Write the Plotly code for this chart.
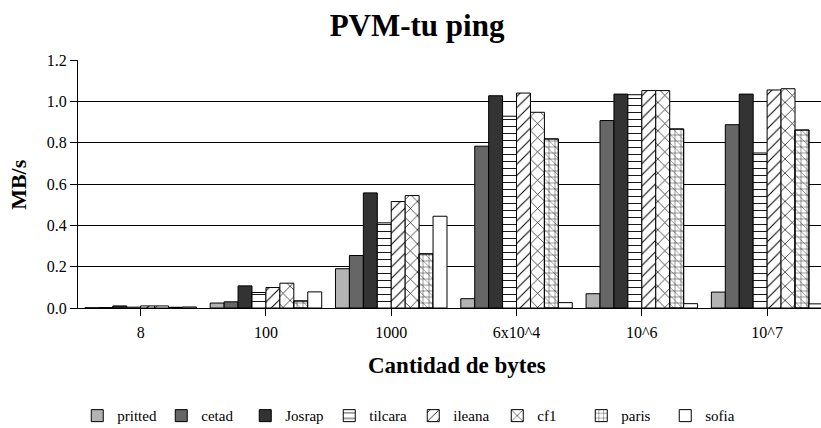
import plotly.graph_objects as go

categories = ["8", "100", "1000", "6x10^4", "10^6", "10^7"]
series_names = ["pritted", "cetad", "Josrap", "tilcara", "ileana", "cf1", "paris", "sofia"]
pritted = [0.001, 0.024, 0.19, 0.045, 0.069, 0.077]
cetad = [0.002, 0.030, 0.254, 0.783, 0.907, 0.887]
josrap = [0.010, 0.107, 0.557, 1.027, 1.035, 1.035]
tilcara = [0.004, 0.075, 0.412, 0.928, 1.032, 0.750]
ileana = [0.010, 0.099, 0.515, 1.040, 1.052, 1.055]
cf1 = [0.010, 0.120, 0.544, 0.947, 1.052, 1.061]
paris = [0.003, 0.034, 0.262, 0.818, 0.866, 0.861]
sofia = [0.005, 0.078, 0.444, 0.026, 0.021, 0.020]
y_ticks = [0.0, 0.2, 0.4, 0.6, 0.8, 1.0, 1.2]

values = [pritted, cetad, josrap, tilcara, ileana, cf1, paris, sofia]
styles = [
    dict(color="#b3b3b3", shape="", size=8),
    dict(color="#666666", shape="", size=8),
    dict(color="#333333", shape="", size=8),
    dict(color="white", shape="-", size=7),
    dict(color="white", shape="/", size=8),
    dict(color="white", shape="x", size=10),
    dict(color="white", shape="+", size=6),
    dict(color="white", shape="", size=8),
]

FONT = "'Liberation Serif', 'Times New Roman', serif"
fig = go.Figure()
x_idx = list(range(len(categories)))
for name, vals, st in zip(series_names, values, styles):
    marker = dict(color=st["color"], line=dict(color="black", width=1))
    if st["shape"]:
        marker["pattern"] = dict(shape=st["shape"], fgcolor="black", bgcolor="white",
                                 size=st["size"], solidity=0.13, fillmode="replace")
    fig.add_trace(go.Bar(name=name, x=x_idx, y=vals, marker=marker, offsetgroup=name))
    if name == "paris":
        fig.add_trace(go.Bar(name=name, x=x_idx, y=vals, offsetgroup=name, showlegend=False,
                             marker=dict(color="rgba(0,0,0,0)", line=dict(color="black", width=1),
                                         pattern=dict(shape="\\", fgcolor="black",
                                                      bgcolor="rgba(0,0,0,0)", size=6,
                                                      solidity=0.13, fillmode="overlay")),
                             hoverinfo="skip"))

fig.update_layout(
    width=821, height=428,
    barmode="group", bargap=0.11, bargroupgap=0,
    plot_bgcolor="white", paper_bgcolor="white",
    margin=dict(l=78, r=0, t=60, b=120, autoexpand=False),
    font=dict(family=FONT, size=16, color="black"),
    title=dict(text="<b>PVM-tu ping</b>", x=0.508, xref="container", xanchor="center",
               y=0.942, yref="container", yanchor="middle",
               font=dict(family=FONT, size=31, color="black")),
    showlegend=True,
    legend=dict(orientation="h", x=-0.001, xanchor="left", y=-0.435, yanchor="middle",
                font=dict(family=FONT, size=15), entrywidth=39, entrywidthmode="pixels",
                traceorder="normal"),
    annotations=[
        dict(text="<b>Cantidad de bytes</b>", x=0.51, y=-0.23, xref="paper", yref="paper",
             xanchor="center", yanchor="middle", showarrow=False,
             font=dict(family=FONT, size=23, color="black")),
        dict(text="<b>MB/s</b>", x=-0.081, y=0.5, xref="paper", yref="paper",
             xanchor="center", yanchor="middle", showarrow=False, textangle=-90,
             font=dict(family=FONT, size=22, color="black")),
    ],
)
fig.update_xaxes(
    range=[-0.5, 5.43], tickvals=x_idx, ticktext=categories, showgrid=False,
    showline=True, linecolor="black", linewidth=1, automargin=False,
    ticks="outside", tickson="boundaries", ticklen=7, tickcolor="black",
    tickfont=dict(family=FONT, size=16), zeroline=False, ticklabelstandoff=3,
)
fig.update_yaxes(
    range=[0, 1.2], tickvals=y_ticks, ticktext=[f"{v:.1f}" for v in y_ticks],
    showgrid=True, gridcolor="black", gridwidth=1, automargin=False,
    showline=True, linecolor="black", linewidth=1,
    ticks="outside", ticklen=7, tickcolor="black", zeroline=False,
    tickfont=dict(family=FONT, size=16),
)
fig.write_html("out.html", config={"displayModeBar": False},
               post_script="document.body.style.margin='0';")
